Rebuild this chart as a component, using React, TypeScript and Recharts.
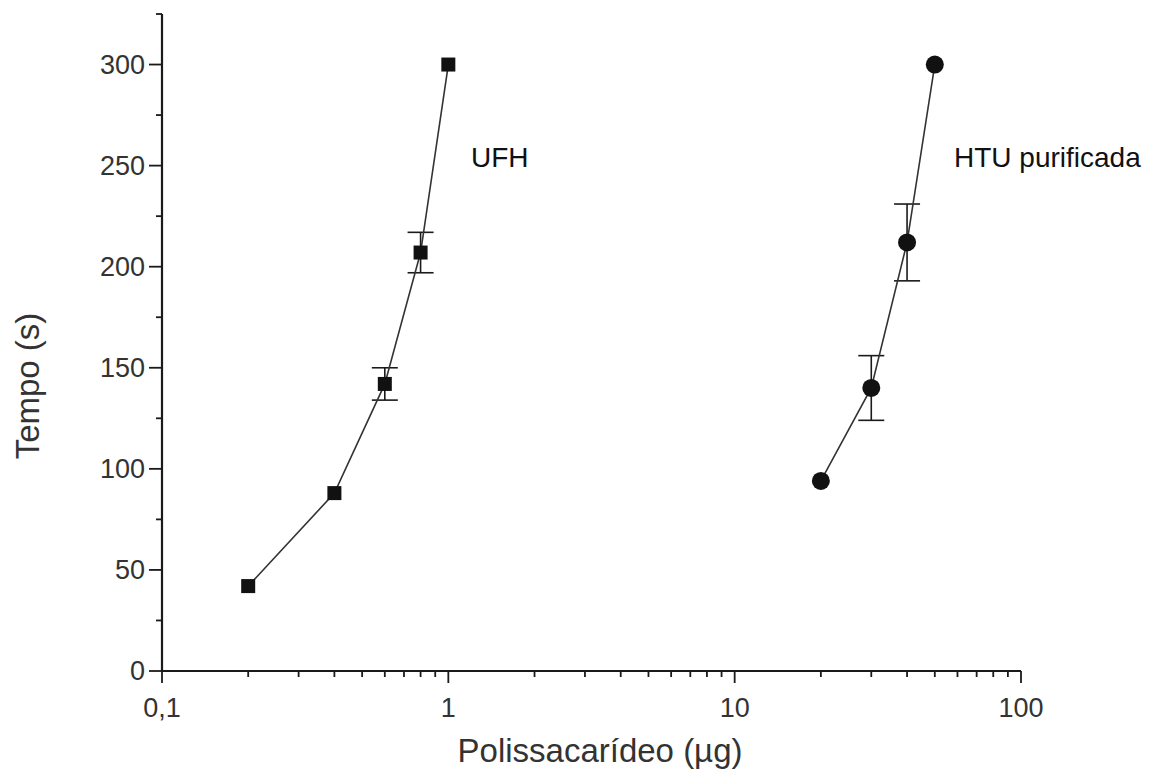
import { ScatterChart, Scatter, XAxis, YAxis, ErrorBar } from 'recharts';

// UFH (squares)
const ufhDose = [0.2, 0.4, 0.6, 0.8, 1];
const ufhTime = [42, 88, 142, 207, 300];
const ufhErr = [0, 0, 8, 10, 0];

// HTU purificada (circles)
const htuDose = [20, 30, 40, 50];
const htuTime = [94, 140, 212, 300];
const htuErr = [0, 16, 19, 0];

const xMajor = [0.1, 1, 10, 100];
const xTicks = [
  0.1, 0.2, 0.3, 0.4, 0.5, 0.6, 0.7, 0.8, 0.9,
  1, 2, 3, 4, 5, 6, 7, 8, 9,
  10, 20, 30, 40, 50, 60, 70, 80, 90, 100
];
const yMajor = [0, 50, 100, 150, 200, 250, 300];
const yTicks = [0, 25, 50, 75, 100, 125, 150, 175, 200, 225, 250, 275, 300, 325];

const ufh = ufhDose.map((d, i) => ({ x: d, y: ufhTime[i], err: ufhErr[i] }));
const htu = htuDose.map((d, i) => ({ x: d, y: htuTime[i], err: htuErr[i] }));

const FONT = '"Liberation Sans", Arial, sans-serif';
const INK = '#1a1a1a';

const fmtX = (v: number) => String(v).replace('.', ',');

const XTick = (props: any) => {
  const { x, y, payload } = props;
  const major = xMajor.includes(payload.value);
  return (
    <g>
      <line x1={x} x2={x} y1={y} y2={y + (major ? 12 : 6)} stroke={INK} strokeWidth={1.8} />
      {major && (
        <text x={x} y={y + 46} textAnchor="middle" fontSize={27} fontFamily={FONT} fill="#333">
          {fmtX(payload.value)}
        </text>
      )}
    </g>
  );
};

const YTick = (props: any) => {
  const { x, y, payload } = props;
  const major = yMajor.includes(payload.value);
  return (
    <g>
      <line x1={x - (major ? 13 : 6)} x2={x} y1={y} y2={y} stroke={INK} strokeWidth={1.8} />
      {major && (
        <text x={x - 17} y={y + 9} textAnchor="end" fontSize={27} fontFamily={FONT} fill="#333">
          {payload.value}
        </text>
      )}
    </g>
  );
};

const Square = (props: any) => {
  const { cx, cy } = props;
  return <rect x={cx - 7} y={cy - 7} width={14} height={14} fill="#111" />;
};

const Dot = (props: any) => {
  const { cx, cy } = props;
  return <circle cx={cx} cy={cy} r={9} fill="#111" />;
};

export default function App() {
  return (
    <div style={{ position: 'absolute', left: 0, top: 0, width: 1158, height: 776, background: '#fff' }}>
      <ScatterChart width={1158} height={776} margin={{ top: 14, right: 137, left: 0, bottom: 0 }}>
        <XAxis
          type="number"
          dataKey="x"
          scale="log"
          domain={[0.1, 100]}
          ticks={xTicks}
          interval={0}
          allowDataOverflow
          height={105}
          tickSize={0}
          tickMargin={0}
          tickLine={false}
          stroke={INK}
          axisLine={{ stroke: INK, strokeWidth: 2.2 }}
          tick={<XTick />}
        />
        <YAxis
          type="number"
          dataKey="y"
          domain={[0, 325]}
          ticks={yTicks}
          interval={0}
          width={162}
          tickSize={0}
          tickMargin={0}
          tickLine={false}
          stroke={INK}
          axisLine={{ stroke: INK, strokeWidth: 2.2 }}
          tick={<YTick />}
        />
        <Scatter
          data={ufh}
          shape={<Square />}
          line={{ stroke: '#333', strokeWidth: 1.6 }}
          isAnimationActive={false}
        >
          <ErrorBar dataKey="err" direction="y" width={13} stroke={INK} strokeWidth={1.6} isAnimationActive={false} />
        </Scatter>
        <Scatter
          data={htu}
          shape={<Dot />}
          line={{ stroke: '#333', strokeWidth: 1.6 }}
          isAnimationActive={false}
        >
          <ErrorBar dataKey="err" direction="y" width={13} stroke={INK} strokeWidth={1.6} isAnimationActive={false} />
        </Scatter>
      </ScatterChart>
      <svg
        width={1158}
        height={776}
        style={{ position: 'absolute', left: 0, top: 0, pointerEvents: 'none' }}
        fontFamily={FONT}
      >
        <text x={471} y={167} fontSize={28} fill="#111">UFH</text>
        <text x={954} y={167} fontSize={28} fill="#111">HTU purificada</text>
        <text
          x={39}
          y={386}
          fontSize={33}
          fill="#333"
          textAnchor="middle"
          transform="rotate(-90 39 386)"
        >
          Tempo (s)
        </text>
        <text x={600} y={762} fontSize={33} fill="#333" textAnchor="middle">
          Polissacarídeo (µg)
        </text>
      </svg>
    </div>
  );
}
